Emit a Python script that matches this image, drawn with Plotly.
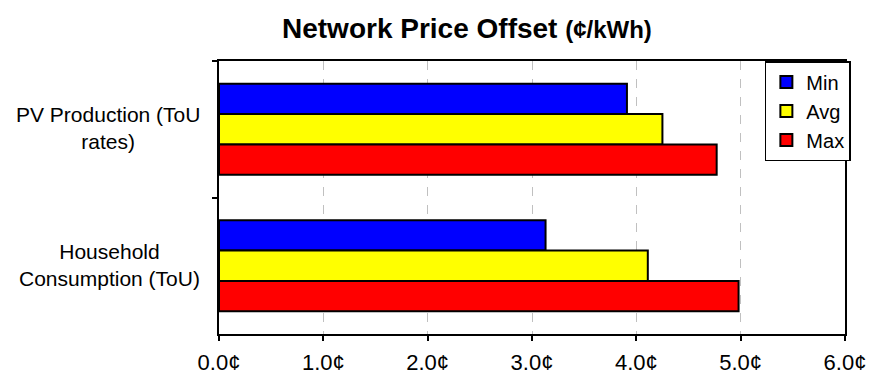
import plotly.graph_objects as go

# Network price offset per customer category (cents per kWh)
categories = ["PV Production (ToU<br>rates)", "Household<br>Consumption (ToU)"]
series_names = ["Min", "Avg", "Max"]
min_values = [3.91, 3.13]
avg_values = [4.25, 4.11]
max_values = [4.77, 4.98]
x_tick_values = [0, 1, 2, 3, 4, 5, 6]
x_tick_labels = [f"{v:.1f}¢" for v in x_tick_values]

colors = {"Min": "#0000FF", "Avg": "#FFFF00", "Max": "#FF0000"}
values = {"Min": min_values, "Avg": avg_values, "Max": max_values}

font_family = "Liberation Sans, Arial, sans-serif"

fig = go.Figure()
for name in series_names:
    fig.add_trace(go.Bar(
        name=name,
        y=categories,
        x=values[name],
        orientation="h",
        legendgroup=name,
        marker=dict(color=colors[name], line=dict(color="black", width=2)),
    ))

# Category labels, centred line by line, left of the value axis
for cat in categories:
    fig.add_annotation(
        x=-0.027, xref="paper", xanchor="right",
        y=cat, yref="y", yanchor="middle", yshift=1,
        text=cat, showarrow=False, align="center",
        font=dict(family=font_family, size=21, color="black"),
    )

fig.add_annotation(
    x=0.396, xref="paper", xanchor="center",
    y=1.12, yref="paper", yanchor="middle",
    text="<b>Network Price Offset <span style='font-size:24px'>(¢/kWh)</span></b>",
    showarrow=False,
    font=dict(family=font_family, size=28, color="black"),
)

fig.update_layout(
    width=869, height=376,
    margin=dict(l=219, r=24, t=61, b=42, autoexpand=False),
    paper_bgcolor="white", plot_bgcolor="white",
    barmode="group", bargap=0.333, bargroupgap=0,
    font=dict(family=font_family, size=21, color="black"),
    showlegend=True,
    legend=dict(
        x=0.872, xanchor="left", y=1.0, yanchor="top",
        bgcolor="white", bordercolor="black", borderwidth=1.5,
        font=dict(family=font_family, size=20, color="black"),
        traceorder="grouped", tracegroupgap=0,
        itemwidth=30,
    ),
    xaxis=dict(
        range=[0, 6], tickmode="array",
        tickvals=x_tick_values, ticktext=x_tick_labels,
        automargin=False,
        showgrid=True, gridcolor="#c0c0c0", gridwidth=1, griddash="dash",
        zeroline=False,
        showline=True, linecolor="black", linewidth=2, mirror=True,
        ticks="outside", ticklen=5, tickwidth=2, tickcolor="black",
        ticklabelstandoff=3,
        tickfont=dict(family=font_family, size=22, color="black"),
    ),
    yaxis=dict(
        type="category", autorange="reversed", automargin=False,
        showgrid=False, zeroline=False,
        showline=True, linecolor="black", linewidth=2, mirror=True,
        ticks="outside", ticklen=5, tickwidth=2, tickcolor="black",
        tickson="boundaries", showticklabels=False,
    ),
)

fig.write_html("out.html")
